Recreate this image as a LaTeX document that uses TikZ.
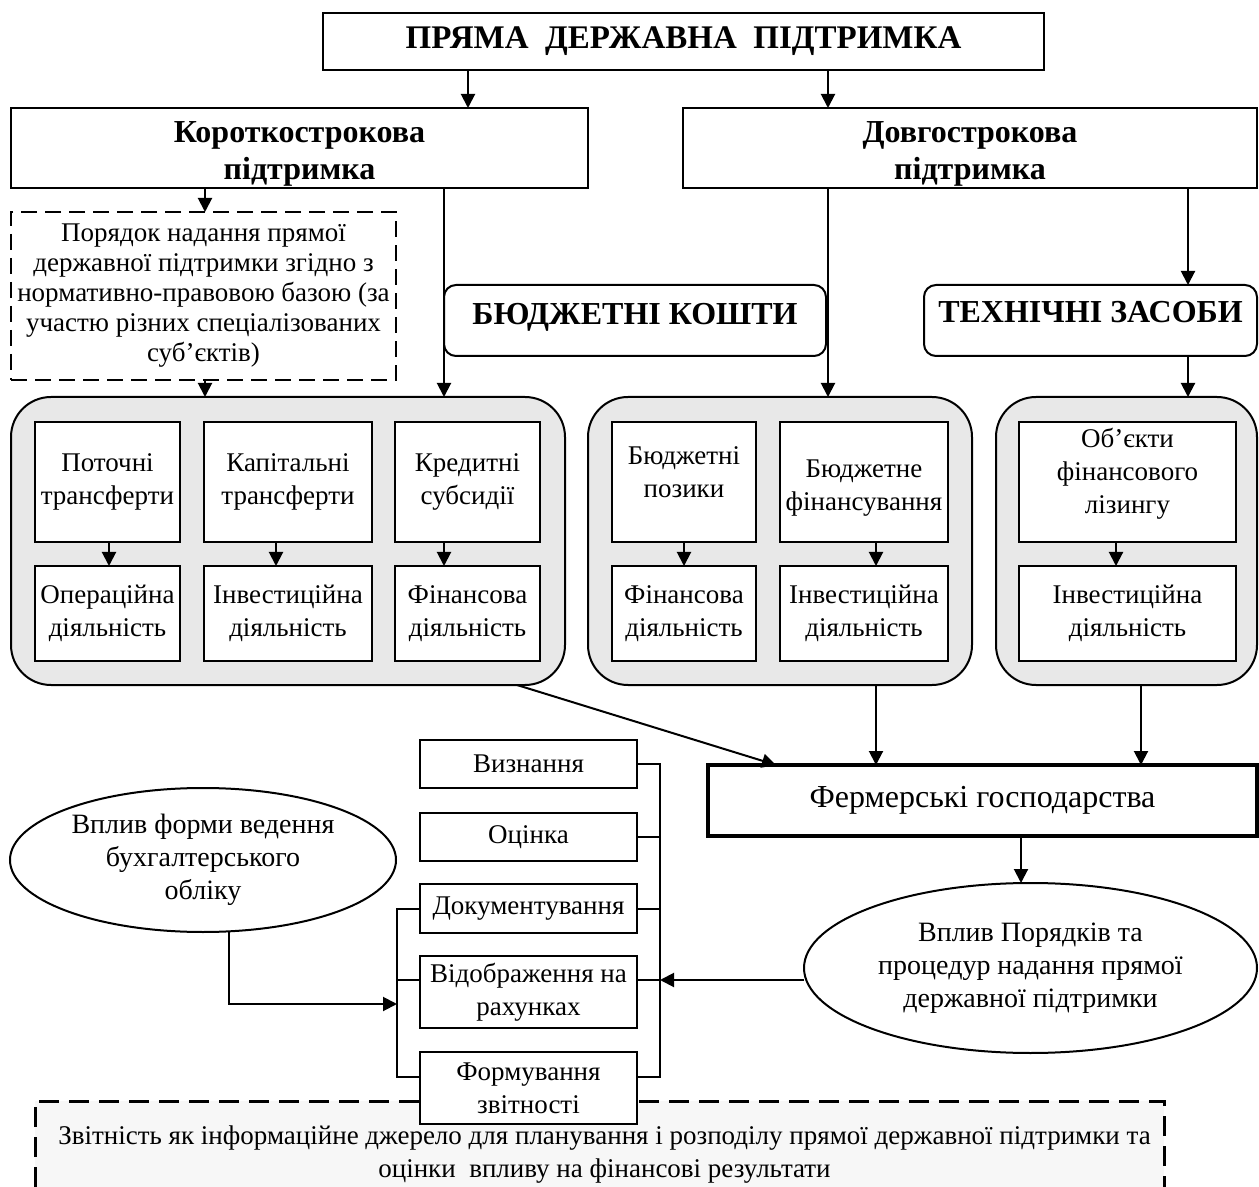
\documentclass[tikz,border=0pt]{standalone}
\usepackage{fontspec}
\setmainfont{Liberation Serif}
\usetikzlibrary{arrows.meta,shapes.geometric}
\definecolor{panelgray}{HTML}{E8E8E8}
\definecolor{repfill}{HTML}{F7F7F7}
\begin{document}
\begin{tikzpicture}[x=0.5pt,y=-0.5pt,
  every node/.style={inner sep=0pt, outer sep=0pt},
  box/.style={draw, line width=1pt, fill=white, rectangle, align=center, font=\fontsize{13.5}{16.5}\selectfont},
  head/.style={box, font=\fontsize{16}{18.5}\selectfont\bfseries},
  rbox/.style={draw, line width=1pt, fill=white, rectangle, rounded corners=6pt},
  panel/.style={draw, line width=1pt, fill=panelgray, rounded corners=20pt, minimum height=144pt},
  ibox/.style={box},
  sbox/.style={box, minimum width=108.5pt},
  oval/.style={draw, line width=1pt, fill=white, ellipse, align=center, font=\fontsize{14}{16.5}\selectfont},
  hl/.style={font=\fontsize{16}{18.5}\selectfont\bfseries, align=center},
  tl/.style={font=\fontsize{13.5}{16.5}\selectfont, align=center},
  arr/.style={line width=1pt, -{Triangle[length=7pt,width=7pt]}},
  ln/.style={line width=1pt},
]
\useasboundingbox (0,0) rectangle (1259,1187);

% top level
\node[head, minimum width=360.5pt, minimum height=28.5pt, font=\fontsize{16.5}{19}\selectfont\bfseries] (top) at (683.5,41.5) {ПРЯМА\ \ ДЕРЖАВНА\ \ ПІДТРИМКА};
\node[head, minimum width=288.5pt, minimum height=40pt,
      label={[hl, yshift=-3pt]center:Короткострокова\\підтримка}] (short) at (299.5,148) {};
\node[head, minimum width=287pt, minimum height=40pt,
      label={[hl, yshift=-3pt]center:Довгострокова\\підтримка}] (long) at (970,148) {};

\node[box, dash pattern=on 8pt off 4pt, line width=1.2pt, minimum width=192.5pt, minimum height=84pt,
      font=\fontsize{13.5}{15}\selectfont] (order) at (203.5,296)
  {Порядок надання прямої\\державної підтримки згідно з\\нормативно-правовою базою (за\\участю різних спеціалізованих\\суб’єктів)};

\node[rbox, minimum width=191pt, minimum height=35.5pt,
      label={[hl, yshift=1.75pt]center:БЮДЖЕТНІ КОШТИ}] (budget) at (635,320.5) {};
\node[rbox, minimum width=166.5pt, minimum height=35.5pt,
      label={[hl, yshift=4pt]center:ТЕХНІЧНІ ЗАСОБИ}] (tech) at (1090.5,320.5) {};

% panels
\node[panel, minimum width=277pt] (pan1) at (288,541) {};
\node[panel, minimum width=192pt] (pan2) at (780,541) {};
\node[panel, minimum width=130.5pt] (pan3) at (1126.5,541) {};

\node[ibox, minimum width=72.5pt, minimum height=60pt] (p1a) at (107.5,482) {Поточні\\трансферти};
\node[ibox, minimum width=84pt, minimum height=60pt] (p1b) at (288,482) {Капітальні\\трансферти};
\node[ibox, minimum width=72.5pt, minimum height=60pt] (p1c) at (467.5,482) {Кредитні\\субсидії};
\node[ibox, minimum width=72.5pt, minimum height=47.5pt] (q1a) at (107.5,613.5) {Операційна\\діяльність};
\node[ibox, minimum width=84pt, minimum height=47.5pt] (q1b) at (288,613.5) {Інвестиційна\\діяльність};
\node[ibox, minimum width=72.5pt, minimum height=47.5pt] (q1c) at (467.5,613.5) {Фінансова\\діяльність};

\node[ibox, minimum width=72pt, minimum height=60pt,
      label={[tl, yshift=4.75pt]center:Бюджетні\\позики}] (p2a) at (684,482) {};
\node[ibox, minimum width=84pt, minimum height=60pt,
      label={[tl, yshift=-3.25pt]center:Бюджетне\\фінансування}] (p2b) at (864,482) {};
\node[ibox, minimum width=72pt, minimum height=47.5pt] (q2a) at (684,613.5) {Фінансова\\діяльність};
\node[ibox, minimum width=84pt, minimum height=47.5pt] (q2b) at (864,613.5) {Інвестиційна\\діяльність};

\node[ibox, minimum width=108.5pt, minimum height=60pt,
      label={[tl, yshift=4pt]center:Об’єкти\\фінансового\\лізингу}] (p3a) at (1127.5,482) {};
\node[ibox, minimum width=108.5pt, minimum height=47.5pt] (q3a) at (1127.5,613.5) {Інвестиційна\\діяльність};

% farms and ovals
\node[box, line width=2pt, minimum width=274.5pt, minimum height=35.5pt, font=\fontsize{16}{19}\selectfont]
  (farm) at (982.5,800.5) {Фермерські господарства};
\node[oval, minimum width=226.5pt, minimum height=85pt] (ell2) at (1030.5,968)
  {Вплив Порядків та\\процедур надання прямої\\державної підтримки};
\node[oval, minimum width=193pt, minimum height=72pt] (ell1) at (203,860)
  {Вплив форми ведення\\бухгалтерського\\обліку};

% report box
\node[fill=repfill, minimum width=564.5pt, minimum height=43pt,
      label={[tl, yshift=-5.5pt, xshift=2.5pt]center:Звітність як інформаційне джерело для планування і розподілу прямої державної підтримки та\\оцінки\ \ впливу на фінансові результати}]
  (rep) at (599.5,1144) {};
\draw[line width=1.5pt, dash pattern=on 10pt off 5pt] (rep.south west) -- (rep.north west) -- (rep.north east) -- (rep.south east);

% accounting steps
\node[sbox, minimum height=24pt] (vizn) at (528.5,764) {Визнання};
\node[sbox, minimum height=24pt] (ocin) at (528.5,837) {Оцінка};
\node[sbox, minimum height=24.5pt] (docu) at (528.5,908.5) {Документування};
\node[sbox, minimum height=36pt] (vidob) at (528.5,992) {Відображення на\\рахунках};
\node[sbox, minimum height=36pt] (form) at (528.5,1088) {Формування\\звітності};

% helper coordinates
\coordinate (xA) at (468,0);
\coordinate (xB) at (828,0);
\coordinate (xC) at (205,0);
\coordinate (xD) at (444,0);
\coordinate (xE) at (1188,0);
\coordinate (x1) at (109,0);
\coordinate (x2) at (276,0);
\coordinate (x3) at (684,0);
\coordinate (x4) at (876,0);
\coordinate (x5) at (1116,0);
\coordinate (x6) at (1141,0);
\coordinate (x7) at (1021,0);
\coordinate (x8) at (517,0);
\coordinate (x9) at (776,0);
\coordinate (rb1) at (660,764);
\coordinate (rb4) at (660,980);
\coordinate (rb5) at (660,1077);
\coordinate (lbx) at (397,0);
\coordinate (la) at (397,1004);

% connectors top
\draw[arr] (top.south -| xA) -- (short.north -| xA);
\draw[arr] (top.south -| xB) -- (long.north -| xB);
\draw[arr] (short.south -| xC) -- (order.north -| xC);
\draw[arr] (order.south -| xC) -- (pan1.north -| xC);
\draw[arr] (short.south -| xD) -- (pan1.north -| xD);
\draw[arr] (long.south -| xB) -- (pan2.north -| xB);
\draw[arr] (long.south -| xE) -- (tech.north -| xE);
\draw[arr] (tech.south -| xE) -- (pan3.north -| xE);

% inner arrows
\draw[arr] (p1a.south -| x1) -- (q1a.north -| x1);
\draw[arr] (p1b.south -| x2) -- (q1b.north -| x2);
\draw[arr] (p1c.south -| xD) -- (q1c.north -| xD);
\draw[arr] (p2a.south -| x3) -- (q2a.north -| x3);
\draw[arr] (p2b.south -| x4) -- (q2b.north -| x4);
\draw[arr] (p3a.south -| x5) -- (q3a.north -| x5);

% to farms
\draw[arr] (pan1.south -| x8) -- (farm.north -| x9);
\draw[arr] (pan2.south -| x4) -- (farm.north -| x4);
\draw[arr] (pan3.south -| x6) -- (farm.north -| x6);
\draw[arr] (farm.south -| x7) -- (ell2.north -| x7);

% brackets
\draw[ln] (vizn.east) -- (rb1) -- (rb5) -- (form.east |- rb5);
\draw[ln] (ocin.east) -- (ocin.east -| rb1);
\draw[ln] (docu.east) -- (docu.east -| rb1);
\draw[ln] (vidob.east |- rb4) -- (rb4);
\draw[ln] (docu.west) -- (docu.west -| lbx) -- (rb5 -| lbx) -- (form.west |- rb5);
\draw[ln] (vidob.west |- rb4) -- (rb4 -| lbx);

\draw[arr] (rb4 -| ell2.west) -- (rb4);
\draw[arr] (ell1.-70) |- (la);
\end{tikzpicture}
\end{document}
